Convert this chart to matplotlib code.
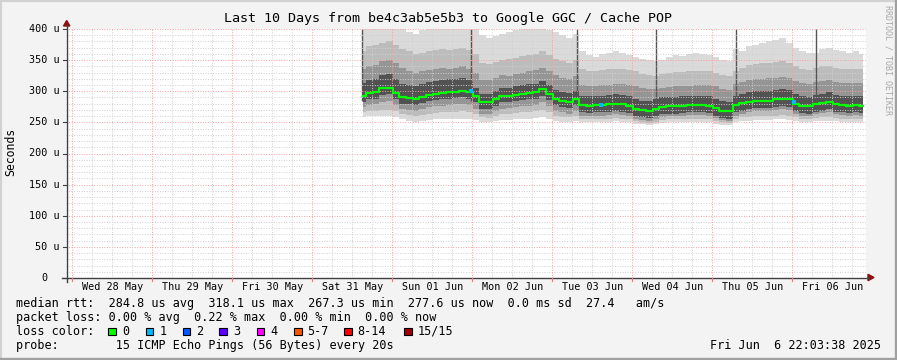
import matplotlib
matplotlib.use("Agg")
import matplotlib.pyplot as plt
from matplotlib.lines import Line2D
from matplotlib.patches import Rectangle, Polygon

# ---------------- data ----------------
title = "Last 10 Days from be4c3ab5e5b3 to Google GGC / Cache POP"
window_hours = 240                 # 10 days, window starts Tue 27 May 22:03:38
first_midnight = 1.9394            # hours from window start to Wed 28 May 00:00
day_labels = ["Wed 28 May", "Thu 29 May", "Fri 30 May", "Sat 31 May", "Sun 01 Jun",
              "Mon 02 Jun", "Tue 03 Jun", "Wed 04 Jun", "Thu 05 Jun", "Fri 06 Jun"]
y_ticks = [0, 50, 100, 150, 200, 250, 300, 350, 400]
y_tick_labels = ["0", "50 u", "100 u", "150 u", "200 u", "250 u", "300 u", "350 u", "400 u"]

# sample times (hours since window start), values in microseconds
t = [89, 91, 93, 95, 97, 99, 101, 103, 105, 107, 109, 111, 113, 115, 117, 119, 121,
     123, 125, 127, 129, 131, 133, 135, 137, 139, 141, 143, 145, 147, 149, 151, 153,
     155, 157, 159, 161, 163, 165, 167, 169, 171, 173, 175, 177, 179, 181, 183, 185,
     187, 189, 191, 193, 195, 197, 199,
     201, 203, 205, 207, 209, 211, 213, 215, 217, 219, 221, 223, 225, 227, 229, 231,
     233, 235, 237, 239]

median = [292, 297, 298, 305, 306, 297, 290, 289, 288, 291, 294, 296, 297, 298, 299, 300, 298,
          292, 282, 282, 287, 292, 292, 294, 296, 297, 298, 303, 296, 288, 285, 283, 288,
          278, 277, 278, 278, 279, 280, 279, 277, 272, 270, 269, 272, 275, 276, 276, 277,
          278, 278, 278, 277, 273, 269, 268,
          278, 281, 283, 285, 285, 285, 287, 288, 287, 280, 277, 276, 279, 281, 283, 279,
          278, 277, 278, 277]

ping_max = [400, 400, 400, 400, 400, 400, 400, 395, 392, 398, 400, 400, 400, 400, 400, 400, 400,
            400, 390, 385, 388, 392, 395, 398, 400, 400, 400, 400, 398, 395, 390, 385, 392,
            365, 358, 355, 360, 362, 365, 362, 358, 355, 352, 350, 348, 350, 355, 358, 356,
            360, 362, 360, 358, 355, 350, 348,
            368, 365, 372, 375, 378, 380, 382, 385, 378, 370, 365, 362, 362, 368, 370, 366,
            364, 362, 365, 360]
ping_q90 = [365, 372, 375, 378, 380, 375, 368, 364, 360, 362, 364, 366, 368, 366, 368, 370, 366,
            360, 345, 343, 347, 350, 352, 354, 356, 358, 360, 364, 358, 352, 348, 346, 350,
            336, 333, 332, 334, 335, 336, 336, 334, 332, 328, 326, 325, 328, 330, 331, 331,
            332, 333, 333, 332, 330, 326, 324,
            333, 338, 342, 344, 345, 346, 347, 348, 346, 341, 336, 334, 338, 340, 341, 338,
            336, 335, 336, 335]
ping_q75 = [335, 340, 342, 348, 350, 345, 338, 333, 330, 332, 334, 336, 338, 336, 338, 340, 336,
            330, 318, 318, 322, 326, 325, 328, 330, 332, 334, 338, 332, 326, 322, 320, 324,
            310, 308, 309, 310, 310, 311, 312, 310, 309, 306, 304, 303, 305, 307, 308, 308,
            309, 310, 310, 310, 308, 304, 302,
            312, 315, 318, 320, 320, 321, 322, 323, 321, 316, 313, 312, 315, 317, 318, 315,
            314, 313, 314, 313]
ping_q60 = [313, 318, 320, 326, 328, 320, 312, 310, 309, 312, 315, 317, 318, 319, 320, 321, 318,
            306, 296, 295, 300, 305, 306, 308, 310, 311, 312, 316, 310, 302, 298, 297, 300,
            292, 292, 293, 293, 294, 295, 294, 292, 287, 285, 284, 287, 290, 291, 291, 292,
            293, 293, 293, 292, 288, 284, 283,
            293, 296, 298, 300, 300, 300, 302, 303, 302, 295, 292, 291, 294, 296, 298, 294,
            293, 292, 293, 292]
ping_q40 = [282, 287, 288, 294, 295, 287, 280, 279, 278, 281, 284, 286, 287, 288, 289, 290, 288,
            282, 272, 272, 277, 282, 282, 284, 286, 287, 288, 292, 286, 278, 275, 273, 278,
            266, 265, 266, 266, 267, 268, 267, 265, 260, 258, 257, 260, 263, 264, 264, 265,
            266, 266, 266, 265, 261, 257, 256,
            266, 269, 271, 273, 273, 273, 275, 276, 275, 268, 265, 264, 267, 269, 271, 267,
            266, 265, 266, 265]
ping_q25 = [274, 278, 279, 283, 284, 278, 272, 270, 269, 271, 274, 276, 277, 278, 279, 280, 278,
            272, 264, 263, 268, 272, 273, 275, 276, 277, 278, 282, 276, 269, 266, 264, 268,
            261, 260, 261, 261, 262, 263, 262, 260, 256, 254, 253, 256, 259, 260, 260, 261,
            262, 262, 262, 261, 257, 254, 253,
            261, 264, 266, 268, 268, 268, 270, 271, 270, 264, 261, 260, 263, 265, 267, 263,
            262, 261, 262, 261]
ping_q10 = [266, 268, 268, 270, 270, 268, 264, 262, 261, 262, 264, 265, 266, 266, 267, 268, 266,
            264, 258, 257, 260, 263, 264, 265, 266, 267, 268, 270, 266, 261, 259, 258, 260,
            256, 255, 256, 256, 256, 257, 256, 255, 252, 250, 249, 251, 254, 255, 255, 256,
            256, 256, 256, 255, 252, 250, 249,
            256, 258, 259, 260, 260, 260, 261, 262, 261, 258, 256, 255, 257, 258, 259, 257,
            256, 256, 256, 256]
ping_min = [258, 260, 260, 261, 260, 258, 255, 252, 251, 252, 254, 255, 255, 256, 256, 256, 255,
            254, 250, 250, 252, 254, 254, 255, 256, 256, 257, 258, 256, 252, 251, 250, 252,
            251, 250, 251, 251, 251, 252, 251, 250, 248, 247, 246, 247, 249, 250, 250, 251,
            251, 251, 251, 250, 248, 246, 246,
            251, 252, 253, 254, 254, 254, 255, 255, 254, 252, 251, 250, 252, 253, 253, 252,
            251, 251, 251, 251]

# single-sample outliers (dark vertical streaks)
spike_t = [88.8, 121.5, 153.3, 177.0, 201.0, 225.0]
spike_low = [285, 285, 278, 270, 270, 276]
spike_high = [400, 400, 400, 400, 400, 400]

# samples with 1/15 loss (drawn in loss colour)
loss1_t = [121.5, 160.5, 218.4]
loss1_v = [300, 278, 283]

legend_rtt = "median rtt:  284.8 us avg  318.1 us max  267.3 us min  277.6 us now  0.0 ms sd  27.4   am/s"
legend_loss = "packet loss: 0.00 % avg  0.22 % max  0.00 % min  0.00 % now"
legend_probe = "probe:        15 ICMP Echo Pings (56 Bytes) every 20s"
timestamp = "Fri Jun  6 22:03:38 2025"
loss_labels = ["0", "1", "2", "3", "4", "5-7", "8-14", "15/15"]
loss_colors = ["#00ff00", "#00b8ff", "#0059ff", "#5e00ff", "#ff00ff", "#ff5500", "#ff0000", "#a10000"]

# ---------------- layout ----------------
W, H = 897, 360
L, R, T, B = 66, 866, 29, 278
MONO = "DejaVu Sans Mono"

def fx(x):
    return x / W

def fy(y):
    return 1 - y / H

fig = plt.figure(figsize=(W / 100, H / 100), dpi=100)
fig.patch.set_facecolor("#f3f3f3")

ax = fig.add_axes([fx(L), fy(B), (R - L) / W, (B - T) / H])
ax.set_xlim(0, window_hours)
ax.set_ylim(0, 400)
ax.set_facecolor("white")
for s in ax.spines.values():
    s.set_visible(False)
ax.set_xticks([])
ax.set_yticks([])

# smoke
ax.fill_between(t, ping_min, ping_max, step="mid", color="#dadada", lw=0, zorder=1)
ax.fill_between(t, ping_q10, ping_q90, step="mid", color="#bcbcbc", lw=0, zorder=1)
ax.fill_between(t, ping_q25, ping_q75, step="mid", color="#959595", lw=0, zorder=1)
ax.fill_between(t, ping_q40, ping_q60, step="mid", color="#525252", lw=0, zorder=1)
ax.vlines(spike_t, spike_low, spike_high, color="#555555", lw=1.0, zorder=1.5)

# grid (drawn over smoke, as rrdtool does)
dots = (0, (1, 1.6))
for v in range(10, 400, 10):
    if v % 50:
        ax.axhline(v, color="#d0d0d0", lw=0.7, ls=dots, zorder=3)
for v in y_ticks[1:]:
    ax.axhline(v, color="#f4a0a0", lw=0.7, ls=dots, zorder=3)
k = 0
while first_midnight - 6 + 6 * k < window_hours:
    tv = first_midnight - 6 + 6 * k
    if tv > 0:
        if (k - 1) % 4 == 0:
            ax.axvline(tv, color="#f4a0a0", lw=0.7, ls=dots, zorder=3)
        else:
            ax.axvline(tv, color="#d0d0d0", lw=0.7, ls=dots, zorder=3)
    k += 1

# median line
ax.step(t, median, where="mid", color="#00ff00", lw=1.6, zorder=4)
ax.plot(loss1_t, loss1_v, "s", color=loss_colors[1], ms=2.5, mew=0, zorder=5)

# axes lines + arrows (pixel coordinates)
ax_col = "#404040"
arrow_col = "#8b1010"
fig.add_artist(Line2D([fx(66.7), fx(66.7)], [fy(282), fy(25)], color=ax_col, lw=1.0))
fig.add_artist(Line2D([fx(62), fx(869)], [fy(277.5), fy(277.5)], color=ax_col, lw=1.0))
fig.add_artist(Polygon([[fx(63.5), fy(26)], [fx(69.9), fy(26)], [fx(66.7), fy(20.5)]],
                       closed=True, color=arrow_col, transform=fig.transFigure))
fig.add_artist(Polygon([[fx(868), fy(274.3)], [fx(868), fy(280.7)], [fx(874), fy(277.5)]],
                       closed=True, color=arrow_col, transform=fig.transFigure))

# y tick marks and labels
for v, lab in zip(y_ticks, y_tick_labels):
    yp = B - (B - T) * v / 400
    fig.add_artist(Line2D([fx(63), fx(66.7)], [fy(yp), fy(yp)], color=ax_col, lw=0.8))
    xr = 59.5 if lab != "0" else 47.0
    fig.text(fx(xr), fy(yp), lab, ha="right", va="center", family=MONO, fontsize=7.3, color="#000000")

# x labels at noon of each day
for i, lab in enumerate(day_labels):
    tv = first_midnight + 12 + 24 * i
    xp = L + (R - L) * tv / window_hours
    fig.text(fx(xp), fy(287.5), lab, ha="center", va="center", family=MONO, fontsize=7.3)
    tm = first_midnight + 24 * i
    xm = L + (R - L) * tm / window_hours
    fig.add_artist(Line2D([fx(xm), fx(xm)], [fy(277.5), fy(281)], color="#e08080", lw=0.8))

# title, y label, watermark
fig.text(fx(448), fy(18.5), title, ha="center", va="center", family=MONO, fontsize=9.6)
fig.text(fx(10.5), fy(152), "Seconds", ha="center", va="center", rotation=90, family=MONO, fontsize=8.3)
fig.text(fx(888), fy(60), "RRDTOOL / TOBI OETIKER", ha="center", va="center", rotation=-90,
         family=MONO, fontsize=6.0, color="#a8a8a8")

# legend
fs = 8.5
fig.text(fx(16), fy(303.5), legend_rtt, ha="left", va="center", family=MONO, fontsize=fs)
fig.text(fx(16), fy(317.5), legend_loss, ha="left", va="center", family=MONO, fontsize=fs)
fig.text(fx(16), fy(331.5), "loss color:", ha="left", va="center", family=MONO, fontsize=fs)
box_x = [108.3, 145.7, 182.7, 219.3, 256.7, 294.0, 344.0, 404.0]
for bx, lab, col in zip(box_x, loss_labels, loss_colors):
    fig.add_artist(Rectangle((fx(bx), fy(335.3)), 7.5 / W, 7.5 / H, transform=fig.transFigure,
                             facecolor=col, edgecolor="black", lw=0.8))
    fig.text(fx(bx + 13.5), fy(331.5), lab, ha="left", va="center", family=MONO, fontsize=fs)
fig.text(fx(16), fy(345.5), legend_probe, ha="left", va="center", family=MONO, fontsize=fs)
fig.text(fx(881), fy(345.5), timestamp, ha="right", va="center", family=MONO, fontsize=fs)

# outer frame
fig.add_artist(Line2D([0, 1], [fy(0.8), fy(0.8)], color="#d2d2d2", lw=1.6))
fig.add_artist(Line2D([fx(0.8), fx(0.8)], [0, 1], color="#d2d2d2", lw=1.6))
fig.add_artist(Line2D([0, 1], [fy(358.5), fy(358.5)], color="#a0a0a0", lw=2.4))
fig.add_artist(Line2D([fx(895.5), fx(895.5)], [0, 1], color="#a0a0a0", lw=2.4))

fig.savefig("out.png", dpi=100, facecolor=fig.get_facecolor())
